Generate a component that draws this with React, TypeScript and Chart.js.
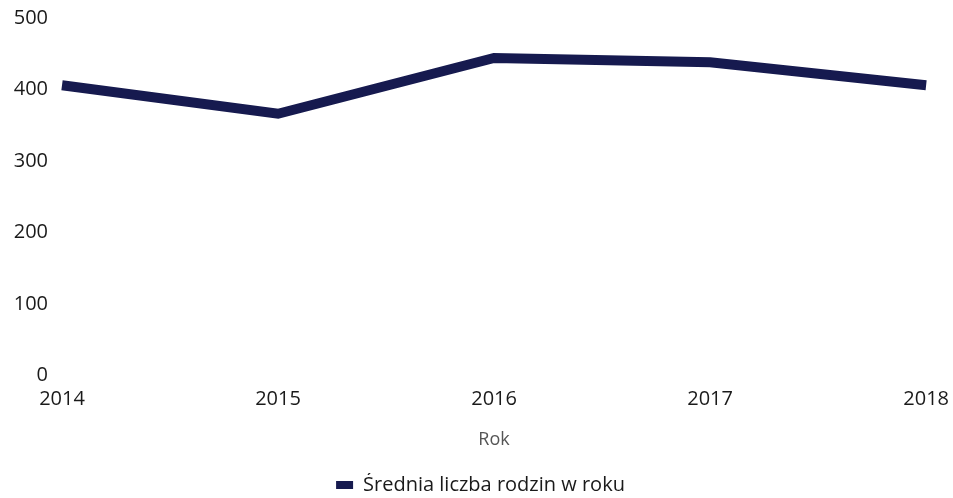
import React, { useEffect, useRef } from "react";
import { Chart, registerables } from "chart.js";

Chart.register(...registerables);

const categories = ["2014", "2015", "2016", "2017", "2018"];
const seriesValues = [406, 366, 444, 438, 406];
const seriesLabel = "Średnia liczba rodzin w roku";
const xTitle = "Rok";
const yTicks = [0, 100, 200, 300, 400, 500];

const NAVY = "#161a4f";

export default function App() {
  const ref = useRef<HTMLCanvasElement | null>(null);
  useEffect(() => {
    if (!ref.current) return;
    const chart = new Chart(ref.current, {
      type: "line",
      data: {
        labels: categories,
        datasets: [
          {
            label: seriesLabel,
            data: seriesValues,
            borderColor: NAVY,
            backgroundColor: NAVY,
            borderWidth: 10,
            pointRadius: 0,
            tension: 0,
            fill: false,
          },
        ],
      },
      options: {
        animation: false,
        responsive: false,
        maintainAspectRatio: false,
        layout: { padding: { left: 8, right: 0, top: 3.5, bottom: -7 } },
        plugins: {
          tooltip: { enabled: false },
          legend: {
            display: true,
            position: "bottom",
            labels: {
              boxWidth: 17,
              boxHeight: 8,
              color: "#1a1a1a",
              padding: 2,
              font: { family: "Open Sans", size: 20 },
              generateLabels: (c: any) => [
                {
                  text: seriesLabel,
                  fillStyle: NAVY,
                  strokeStyle: NAVY,
                  lineWidth: 0,
                  hidden: false,
                  datasetIndex: 0,
                  fontColor: "#1a1a1a",
                },
              ],
            },
          },
        },
        scales: {
          x: {
            offset: false,
            grid: { display: false },
            border: { display: false },
            ticks: {
              color: "#1a1a1a",
              padding: 4,
              maxRotation: 0,
              font: { family: "Open Sans", size: 20 },
            },
            title: {
              display: true,
              text: xTitle,
              color: "#555",
              font: { family: "Open Sans", size: 18 },
              padding: { top: 14, bottom: 22 },
            },
          },
          y: {
            min: 0,
            max: 500,
            afterBuildTicks: (axis: any) => {
              axis.ticks = yTicks.map((v) => ({ value: v }));
            },
            afterFit: (axis: any) => {
              axis.width = 54;
            },
            grid: { display: false },
            border: { display: false },
            ticks: {
              color: "#1a1a1a",
              padding: 6,
              font: { family: "Open Sans", size: 20 },
            },
          },
        },
      },
    });
    return () => chart.destroy();
  }, []);
  return (
    <div style={{ position: "fixed", left: 0, top: 0, width: 953, height: 498, background: "#fff" }}>
      <canvas ref={ref} width={953} height={498} style={{ display: "block" }} />
    </div>
  );
}
